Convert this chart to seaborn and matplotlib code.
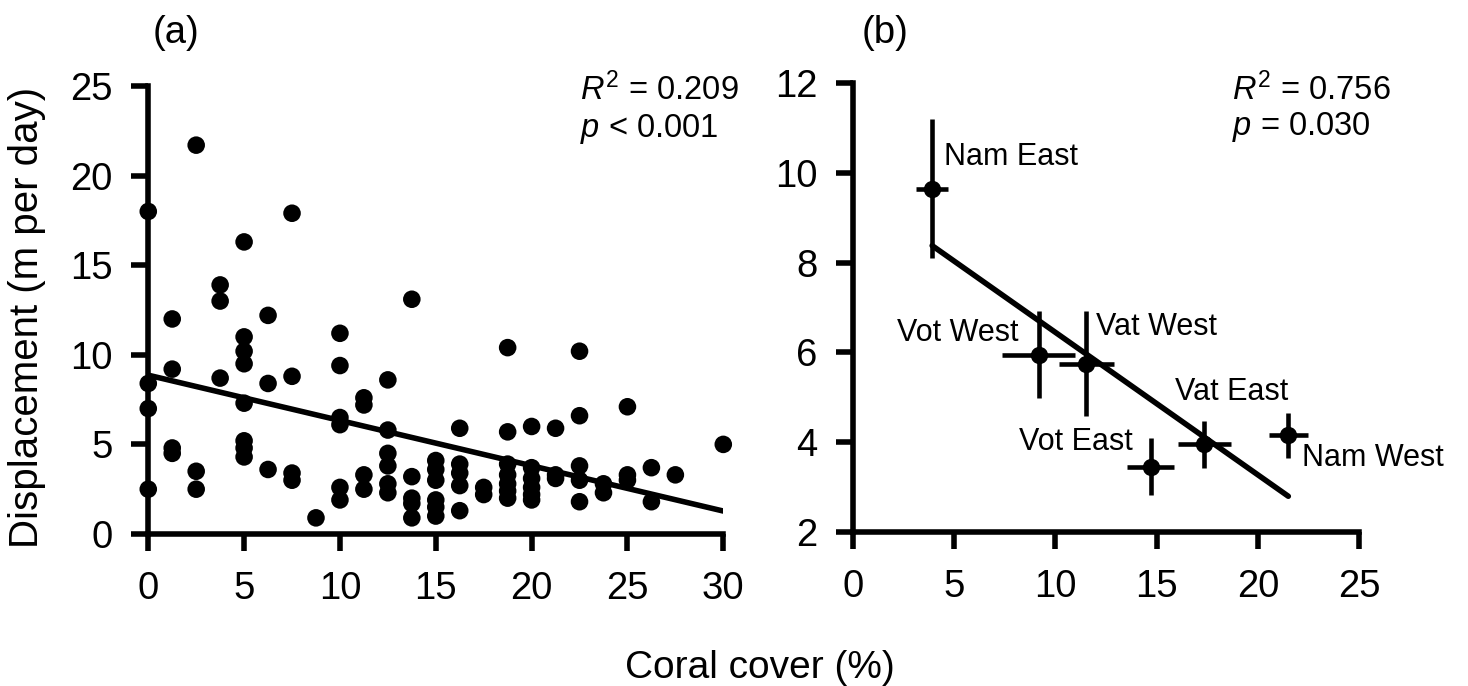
import numpy as np
import pandas as pd
import seaborn as sns
import matplotlib.pyplot as plt

sns.set_style("ticks")
plt.rcParams['font.family'] = ['Liberation Sans', 'DejaVu Sans']
plt.rcParams['mathtext.fontset'] = 'custom'
plt.rcParams['mathtext.it'] = 'Liberation Sans:italic'
plt.rcParams['mathtext.rm'] = 'Liberation Sans'
for key in ('text.color', 'axes.labelcolor', 'xtick.color', 'ytick.color', 'axes.edgecolor'):
    plt.rcParams[key] = 'black'

# (a) individual tracks
cover_a = ([0] * 4 + [1.25] * 4 + [2.5] * 3 + [3.75] * 3 + [5] * 8 + [6.25] * 3
           + [7.5] * 4 + [8.75] + [10] * 6 + [11.25] * 4 + [12.5] * 6 + [13.75] * 5
           + [15] * 6 + [16.25] * 5 + [17.5] * 2 + [18.75] * 7 + [20] * 6
           + [21.25] * 3 + [22.5] * 5 + [23.75] * 2 + [25] * 3 + [26.25] * 2
           + [27.5] + [30])
disp_a = [18.0, 8.4, 7.0, 2.5,
          12.0, 9.2, 4.8, 4.5,
          21.7, 3.5, 2.5,
          13.9, 13.0, 8.7,
          16.3, 11.0, 10.2, 9.5, 7.3, 5.2, 4.8, 4.3,
          12.2, 8.4, 3.6,
          17.9, 8.8, 3.4, 3.0,
          0.9,
          11.2, 9.4, 6.5, 6.1, 2.6, 1.9,
          7.6, 7.2, 3.3, 2.5,
          8.6, 5.8, 4.5, 3.8, 2.8, 2.3,
          13.1, 3.2, 2.0, 1.7, 0.9,
          4.1, 3.6, 3.0, 1.9, 1.5, 1.0,
          5.9, 3.9, 3.4, 2.7, 1.3,
          2.6, 2.2,
          10.4, 5.7, 3.9, 3.3, 2.8, 2.4, 2.0,
          6.0, 3.7, 3.1, 2.6, 2.2, 1.9,
          5.9, 3.3, 3.1,
          10.2, 6.6, 3.8, 3.0, 1.8,
          2.8, 2.3,
          7.1, 3.3, 3.0,
          3.7, 1.8,
          3.3,
          5.0]

# (b) site means
sites = ["Nam East", "Vot West", "Vat West", "Vot East", "Vat East", "Nam West"]
cover_b = [3.92, 9.17, 11.53, 14.7, 17.36, 21.5]
cover_b_err = [0.8, 1.8, 1.37, 1.14, 1.33, 0.97]
disp_b = [9.65, 5.95, 5.75, 3.45, 3.95, 4.15]
disp_b_err = [1.55, 0.97, 1.18, 0.63, 0.52, 0.5]
label_pos = [(4.5, 10.36, 'left'), (8.18, 6.43, 'right'), (12.0, 6.57, 'left'),
             (13.8, 4.0, 'right'), (15.9, 5.12, 'left'), (22.2, 3.64, 'left')]

df_a = pd.DataFrame({"cover": cover_a, "disp": disp_a})
df_b = pd.DataFrame({"site": sites, "cover": cover_b, "disp": disp_b})

fig = plt.figure(figsize=(14.68, 6.86), dpi=100)
ax1 = fig.add_axes([0.1010, 0.2216, 0.3917, 0.6530])
ax2 = fig.add_axes([0.5809, 0.2249, 0.3450, 0.6537])

fs = 27.5
lw = 4

#Panel a
sns.scatterplot(data=df_a, x="cover", y="disp", ax=ax1, color="black", s=160,
                edgecolor="none", clip_on=False, zorder=3)
sns.regplot(data=df_a, x="cover", y="disp", ax=ax1, scatter=False, ci=None,
            truncate=True, line_kws={"color": "black", "lw": lw})
ax1.set_xlim(0, 30)
ax1.set_ylim(0, 25)
ax1.set_xticks(range(0, 31, 5))
ax1.set_yticks(range(0, 26, 5))
ax1.text(22.5, 24.8, r"$R^2$ = 0.209", fontsize=23.5, va="center")
ax1.text(22.5, 22.6, r"$p$ < 0.001", fontsize=23.5, va="center")

#Panel b
ax2.errorbar(cover_b, disp_b, xerr=cover_b_err, yerr=disp_b_err, fmt="o",
             color="black", ms=11.5, elinewidth=3.3, capsize=0, zorder=3)
sns.regplot(data=df_b, x="cover", y="disp", ax=ax2, scatter=False, ci=None,
            truncate=True, line_kws={"color": "black", "lw": lw})
for name, (tx, ty, ha) in zip(sites, label_pos):
    ax2.text(tx, ty, name, fontsize=22, ha=ha, va="center")
ax2.set_xlim(0, 25)
ax2.set_ylim(2, 12)
ax2.set_xticks(range(0, 26, 5))
ax2.set_yticks(range(2, 13, 2))
ax2.text(18.7, 11.85, r"$R^2$ = 0.756", fontsize=23.5, va="center")
ax2.text(18.7, 11.02, r"$p$ = 0.030", fontsize=23.5, va="center")

for ax in (ax1, ax2):
    sns.despine(ax=ax)
    ax.set_xlabel("")
    ax.set_ylabel("")
    for sp in ("left", "bottom"):
        ax.spines[sp].set_linewidth(lw)
    ax.tick_params(width=lw, length=12.5, labelsize=fs, direction="out")
    ax.tick_params(axis="x", pad=14.5)
    ax.tick_params(axis="y", pad=13)

fig.text(176 / 1468, 1 - 33 / 686, "(a)", fontsize=fs, ha="center", va="center")
fig.text(885 / 1468, 1 - 33 / 686, "(b)", fontsize=fs, ha="center", va="center")
fig.text(27 / 1468, 1 - 317 / 686, "Displacement (m per day)", fontsize=29,
         rotation=90, ha="center", va="center")
fig.text(760 / 1468, 1 - 668 / 686, "Coral cover (%)", fontsize=28,
         ha="center", va="center")

fig.savefig("out.png", dpi=100, facecolor="white")
